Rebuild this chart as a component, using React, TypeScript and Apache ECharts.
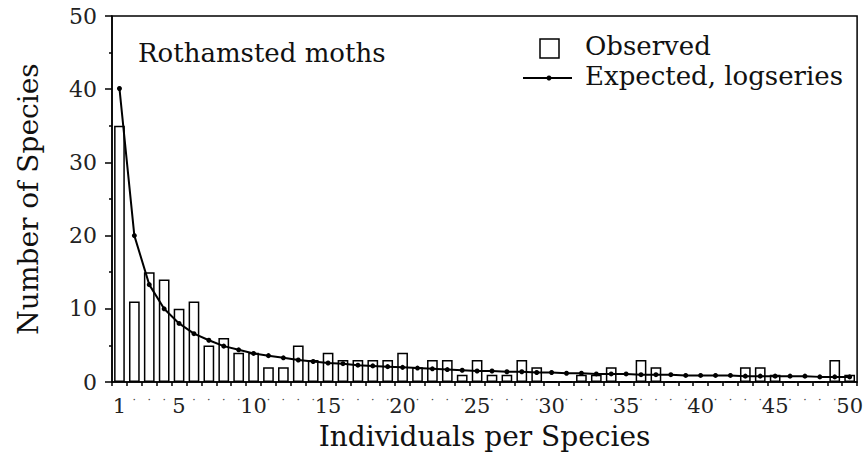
import React, { useEffect, useRef } from "react";
import * as echarts from "echarts";

const categories: string[] = Array.from({ length: 50 }, (_, i) => String(i + 1));
const observed: number[] = [
  35, 11, 15, 14, 10, 11, 5, 6, 4, 4,
  2, 2, 5, 3, 4, 3, 3, 3, 3, 4,
  2, 3, 3, 1, 3, 1, 1, 3, 2, 0,
  0, 1, 1, 2, 0, 3, 2, 0, 0, 0,
  0, 0, 2, 2, 1, 0, 0, 0, 3, 1,
];
const expected: number[] = [
  40.1, 20.0, 13.3, 10.0, 8.0, 6.6, 5.7, 4.9, 4.4, 3.9,
  3.6, 3.3, 3.0, 2.8, 2.6, 2.5, 2.3, 2.2, 2.1, 2.0,
  1.9, 1.8, 1.7, 1.6, 1.5, 1.5, 1.4, 1.4, 1.3, 1.3,
  1.2, 1.2, 1.1, 1.1, 1.1, 1.0, 1.0, 1.0, 0.9, 0.9,
  0.9, 0.9, 0.8, 0.8, 0.8, 0.8, 0.8, 0.7, 0.7, 0.7,
];
const labelledTicks: string[] = ["1", "5", "10", "15", "20", "25", "30", "35", "40", "45", "50"];

const FONT = "DejaVu Serif";

export default function App() {
  const ref = useRef<HTMLDivElement>(null);
  useEffect(() => {
    if (!ref.current) return;
    const chart = echarts.init(ref.current, undefined, { renderer: "svg" });
    chart.setOption({
      animation: false,
      backgroundColor: "#fff",
      grid: {
        left: 112,
        right: 8,
        top: 16,
        bottom: 85,
        show: true,
        borderColor: "#000",
        borderWidth: 1.5,
        backgroundColor: "transparent",
      },
      xAxis: {
        type: "category",
        data: categories,
        name: "Individuals per Species",
        nameLocation: "middle",
        nameGap: 40,
        nameTextStyle: { fontFamily: FONT, fontSize: 28, color: "#111" },
        axisLine: { lineStyle: { color: "#000", width: 1.5 } },
        axisTick: { show: true, length: 4, interval: 0, lineStyle: { color: "#000", width: 1.5 } },
        axisLabel: {
          interval: 0,
          margin: 13,
          fontFamily: FONT,
          fontSize: 21,
          color: "#222",
          formatter: (v: string) => (labelledTicks.indexOf(v) >= 0 ? v : "{d|·}"),
          rich: { d: { fontFamily: FONT, fontSize: 11, color: "#444" } },
        },
        splitLine: { show: false },
      },
      yAxis: {
        type: "value",
        min: 0,
        max: 50,
        interval: 10,
        name: "Number of Species",
        nameLocation: "middle",
        nameGap: 70,
        nameTextStyle: { fontFamily: FONT, fontSize: 28, color: "#111" },
        axisLine: { show: true, lineStyle: { color: "#000", width: 1.5 } },
        axisTick: { show: true, length: 7, lineStyle: { color: "#000", width: 1.5 } },
        minorTick: { show: true, splitNumber: 2, length: 3, lineStyle: { color: "#000", width: 1.5 } },
        axisLabel: { fontFamily: FONT, fontSize: 22, color: "#222", margin: 15 },
        splitLine: { show: false },
      },
      graphic: [
        {
          type: "text",
          left: 138,
          top: 40,
          style: { text: "Rothamsted moths", fontFamily: FONT, fontSize: 26, fill: "#111" },
        },
        {
          type: "rect",
          shape: { x: 540, y: 39, width: 19, height: 19 },
          style: { fill: "#fff", stroke: "#000", lineWidth: 1.5 },
        },
        {
          type: "text",
          left: 585,
          top: 33,
          style: { text: "Observed", fontFamily: FONT, fontSize: 26, fill: "#111" },
        },
        {
          type: "line",
          shape: { x1: 523, y1: 78, x2: 572, y2: 78 },
          style: { stroke: "#000", lineWidth: 2 },
        },
        {
          type: "circle",
          shape: { cx: 549, cy: 78, r: 2.5 },
          style: { fill: "#000" },
        },
        {
          type: "text",
          left: 585,
          top: 63,
          style: { text: "Expected, logseries", fontFamily: FONT, fontSize: 26, fill: "#111" },
        },
      ],
      series: [
        {
          name: "Observed",
          type: "bar",
          data: observed,
          barWidth: "72%",
          itemStyle: { color: "#fff", borderColor: "#000", borderWidth: 1.5 },
          z: 2,
        },
        {
          name: "Expected, logseries",
          type: "line",
          data: expected,
          symbol: "circle",
          symbolSize: 5,
          itemStyle: { color: "#000" },
          lineStyle: { color: "#000", width: 2 },
          z: 3,
        },
      ],
    });
    return () => chart.dispose();
  }, []);
  return (
    <div
      ref={ref}
      style={{ position: "absolute", left: 0, top: 0, width: 866, height: 467 }}
    />
  );
}
